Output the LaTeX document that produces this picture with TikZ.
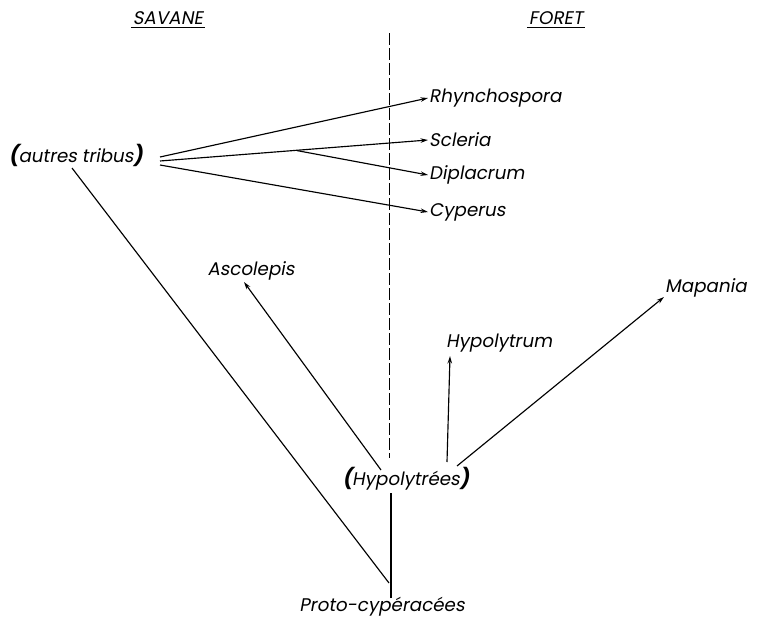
\documentclass[tikz,border=0pt]{standalone}
\usepackage{fontspec}
\usetikzlibrary{arrows.meta,calc}
\newfontfamily\labfont[FakeSlant=0.18]{Poppins}
\newcommand{\bigparen}[1]{{\bfseries\fontsize{20}{20}\selectfont #1}}
\begin{document}
\begin{tikzpicture}[x=1pt,y=-1pt,
  lab/.style={font=\labfont\fontsize{18.3}{20}\selectfont, inner sep=1pt},
  branch/.style={line width=1.15pt},
  arr/.style={branch,-{Stealth[length=7.5pt,width=4.5pt]}}]
\useasboundingbox (0,0) rectangle (761,621);

% column headings
\node[lab] (sav) at (168,18) {SAVANE};
\node[lab] (for) at (556,18) {FORET};
\draw[line width=0.9pt] ($(sav.south west)+(-1,2)$) -- ($(sav.south east)+(1,2)$);
\draw[line width=0.9pt] ($(for.south west)+(-1,2)$) -- ($(for.south east)+(1,2)$);

% boundary between savanna and forest
\draw[line width=0.9pt, dash pattern=on 12pt off 3pt] (389,33) -- (389,458);

% labels
\node[lab] (tribus) at (76,155) {\bigparen{(}autres tribus\bigparen{)}};
\node[lab,anchor=west] (rhyn) at (428,98) {Rhynchospora};
\node[lab,anchor=west] (scle) at (428,140) {Scleria};
\node[lab,anchor=west] (dipl) at (428,175) {Diplacrum};
\node[lab,anchor=west] (cype) at (428,212) {Cyperus};
\node[lab] (asco) at (251,271) {Ascolepis};
\node[lab,anchor=west] (hypm) at (445,343) {Hypolytrum};
\node[lab,anchor=west] (mapa) at (664,288) {Mapania};
\node[lab] (hypo) at (406,479) {\bigparen{(}Hypolytrées\bigparen{)}};
\node[lab] (proto) at (382,607) {Proto-cypéracées};

% branching points
\coordinate (f1) at (160,157);
\coordinate (f2) at (160,161);
\coordinate (f3) at (160,165);
\coordinate (fork) at (297,150.6);
\coordinate (tstem) at (72,168);
\coordinate (root) at (389,583);
\coordinate (rbase) at (391,598);
\coordinate (hbase) at (391,493);
\coordinate (atip) at (244,282);
\coordinate (abase) at (381,470);
\coordinate (htip) at (450,356);
\coordinate (hfoot) at (447,462);
\coordinate (mtip) at (664,297);
\coordinate (mfoot) at (457,466);

% upper fan
\draw[arr] (f1) -- (rhyn.west);
\draw[arr] (f2) -- (scle.west);
\draw[arr] (fork) -- (dipl.west);
\draw[arr] (f3) -- (cype.west);

% trunk
\draw[branch] (tstem) -- (root);
\draw[branch] (rbase) -- (hbase);

% Hypolytreae radiation
\draw[arr] (abase) -- (atip);
\draw[arr] (hfoot) -- (htip);
\draw[arr] (mfoot) -- (mtip);
\end{tikzpicture}
\end{document}
